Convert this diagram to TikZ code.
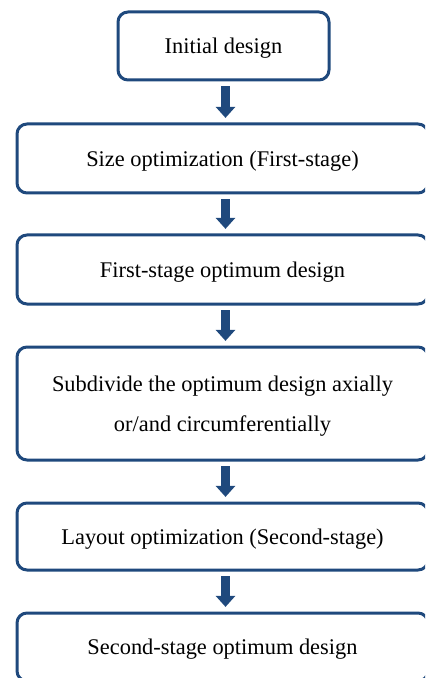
\documentclass[tikz,border=0pt]{standalone}
\usepackage{fontspec}
\setmainfont{Liberation Serif}
\usetikzlibrary{arrows.meta}
\definecolor{flowblue}{RGB}{31,73,125}
\tikzset{
  stagebox/.style={draw=flowblue, line width=1.5pt, rounded corners=5pt,
    fill=white, align=center, inner sep=0pt, text depth=0pt,
    font=\fontsize{11.2}{20}\selectfont},
  flow/.style={draw=flowblue, line width=4.5pt,
    -{Triangle[width=9.5pt,length=5.5pt,fill=flowblue]},
    shorten <=2.3pt, shorten >=2.3pt},
}
\begin{document}
\begin{tikzpicture}[x=0.5pt,y=-0.5pt]
  \path[use as bounding box] (0,0) rectangle (425,678);
  \clip (0,0) rectangle (425,678);

  \node[stagebox, minimum width=105.5pt, minimum height=34pt] (init) at (223.5,46) {Initial design};
  \node[stagebox, minimum width=205.5pt, minimum height=34.5pt] (size) at (222.5,158.5) {Size optimization (First-stage)};
  \node[stagebox, minimum width=205.5pt, minimum height=34.5pt] (first) at (222.5,269.5) {First-stage optimum design};
  \node[stagebox, minimum width=205.5pt, minimum height=56.5pt] (subdiv) at (222.5,403.5) {Subdivide the optimum design axially\\or/and circumferentially};
  \node[stagebox, minimum width=205.5pt, minimum height=33.5pt] (layout) at (222.5,536.5) {Layout optimization (Second-stage)};
  \node[stagebox, minimum width=205.5pt, minimum height=34pt] (second) at (222.5,647) {Second-stage optimum design};

  \coordinate (ax) at (225.5,0);
  \draw[flow] (init.south -| ax) -- (size.north -| ax);
  \draw[flow] (size.south -| ax) -- (first.north -| ax);
  \draw[flow] (first.south -| ax) -- (subdiv.north -| ax);
  \draw[flow] (subdiv.south -| ax) -- (layout.north -| ax);
  \draw[flow] (layout.south -| ax) -- (second.north -| ax);
\end{tikzpicture}
\end{document}
